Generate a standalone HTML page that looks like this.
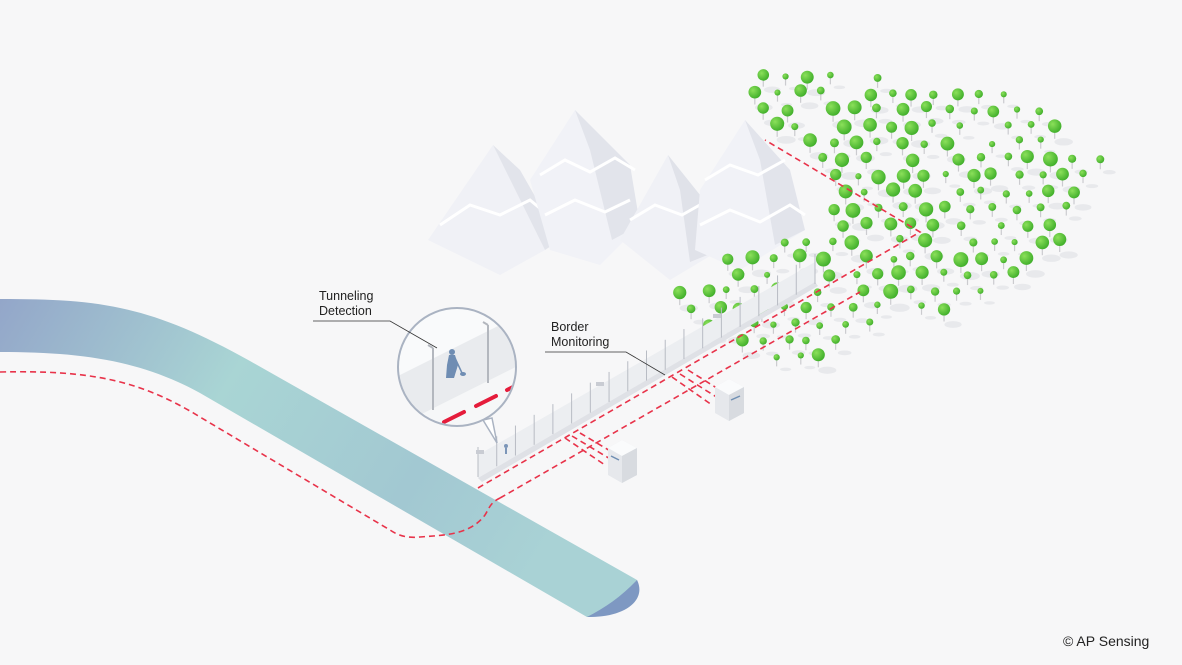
<!DOCTYPE html>
<html><head><meta charset="utf-8"><style>
html,body{margin:0;padding:0;background:#f7f7f8;}
svg{display:block}
text{font-family:"Liberation Sans",sans-serif;fill:#222;}
</style></head><body>
<svg width="1182" height="665" viewBox="0 0 1182 665" xmlns="http://www.w3.org/2000/svg">
<defs>
<linearGradient id="pg" x1="0" y1="0" x2="1" y2="0.3">
<stop offset="0" stop-color="#93a6c9"/><stop offset="0.4" stop-color="#a9d5d4"/><stop offset="0.75" stop-color="#a2c8d2"/><stop offset="1" stop-color="#a9d2d5"/></linearGradient>
<radialGradient id="tg" cx="0.35" cy="0.35" r="0.7"><stop offset="0" stop-color="#8be05a"/><stop offset="1" stop-color="#3fae2a"/></radialGradient>
<clipPath id="mc"><circle cx="457" cy="367" r="58"/></clipPath>
</defs>
<rect width="1182" height="665" fill="#f7f7f8"/>

<!-- mountains -->
<g stroke="none">
<polygon points="493,145 428,240 500,275 545,250" fill="#f0f1f6"/>
<polygon points="493,145 545,250 560,240 520,170" fill="#e2e4eb"/>
<path d="M440,225 L470,205 L500,215 L530,200 L548,215" stroke="#fff" stroke-width="3" fill="none"/>
<polygon points="575,110 530,180 550,250 600,265 640,225 630,165" fill="#f1f2f7"/>
<polygon points="575,110 630,165 640,225 612,240 590,150" fill="#e2e4eb"/>
<path d="M540,175 L565,160 L590,172 L615,158 L635,170" stroke="#fff" stroke-width="3" fill="none"/>
<path d="M545,215 L575,200 L605,212 L630,200" stroke="#fff" stroke-width="3" fill="none"/>
<polygon points="668,155 620,240 670,280 720,250 700,195" fill="#f0f1f6"/>
<polygon points="668,155 700,195 720,250 690,262 680,190" fill="#e0e2e9"/>
<path d="M630,220 L655,205 L682,215 L705,202" stroke="#fff" stroke-width="3" fill="none"/>
<polygon points="745,120 700,190 695,250 740,270 805,230 790,170" fill="#f1f2f7"/>
<polygon points="745,120 790,170 805,230 775,245 760,160" fill="#e2e4eb"/>
<path d="M705,180 L730,165 L758,175 L785,160" stroke="#fff" stroke-width="3" fill="none"/>
<path d="M700,225 L730,210 L760,222 L790,205 L805,215" stroke="#fff" stroke-width="3" fill="none"/>
</g>

<!-- forest -->
<g id="forest"></g>

<!-- pipe -->
<path d="M0,299 C100,299 150,305 250,361 L637,580 C645,598 625,617 587,617 L200,393 C140,360 80,352 0,352 Z" fill="url(#pg)"/>
<path d="M637,580 C647,600 625,618 587,617 C605,608 622,596 637,580Z" fill="#7e98c2"/>

<!-- pipe dashed -->
<path d="M0,372 C90,370 140,380 200,417 L390,530 C400,537 410,538 420,537 C445,535 470,535 485,515 C490,507 490,503 500,498" stroke="#e8334a" stroke-width="1.6" fill="none" stroke-dasharray="6,4"/>

<!-- fence -->
<polygon points="478,455 815,262 815,282 478,478" fill="#eceef1"/>
<polygon points="478,478 815,282 818,286 482,482" fill="#dfe1e6"/>
<g stroke="#b8bcc4" stroke-width="1" id="posts"></g>
<rect x="596" y="382" width="8" height="4" fill="#c9ccd3"/>
<rect x="713" y="314" width="8" height="4" fill="#c9ccd3"/>
<rect x="476" y="450" width="8" height="4" fill="#c9ccd3"/>
<circle cx="506" cy="446" r="2" fill="#7c96b8"/><path d="M506,448 l0,6" stroke="#7c96b8" stroke-width="2"/>

<!-- red border lines -->
<g stroke="#e8334a" stroke-width="1.6" fill="none" stroke-dasharray="6,4">
<path d="M478,488 L920,232 L765,140"/>
<path d="M500,498 L860,292"/>
<path d="M565,438 L605,465 M572,436 L612,460 M580,433 L612,452"/>
<path d="M672,377 L712,405 M680,374 L718,398 M688,370 L720,390"/>
</g>

<!-- towers -->
<g>
<polygon points="608,448 622,440 637,448 637,475 622,483 608,475" fill="#e6e8ec"/>
<polygon points="608,448 622,440 637,448 622,456" fill="#fafbfc"/>
<polygon points="622,456 637,448 637,475 622,483" fill="#d8dbe0"/>
<path d="M611,456 l8,4" stroke="#6f8fb3" stroke-width="1.5"/>
<polygon points="715,387 729,379 744,387 744,413 729,421 715,413" fill="#e6e8ec"/>
<polygon points="715,387 729,379 744,387 729,395" fill="#fafbfc"/>
<polygon points="729,395 744,387 744,413 729,421" fill="#d8dbe0"/>
<path d="M731,400 l9,-4" stroke="#6f8fb3" stroke-width="1.5"/>
</g>

<!-- magnifier -->
<path d="M483,420 L497,443 L492,418Z" fill="#fff" stroke="#aab3c2" stroke-width="1.5"/>
<circle cx="457" cy="367" r="59" fill="#f9fafb"/>
<g clip-path="url(#mc)">
<polygon points="390,380 530,310 530,360 390,430" fill="#e9ebee"/>
<polygon points="390,430 530,360 530,420 390,440" fill="#f6f7f8"/>
<path d="M433,348 L433,410 M488,325 L488,383" stroke="#b3b7be" stroke-width="2"/>
<path d="M433,348 l-5,-3 M488,325 l-5,-3" stroke="#b3b7be" stroke-width="2"/>
<path d="M420,435 l12,-6 M444,422 l20,-10 M476,406 l20,-10 M507,390 l20,-10" stroke="#e51c3b" stroke-width="4" stroke-linecap="round"/>
<circle cx="452" cy="352" r="3" fill="#6f8db3"/>
<path d="M449,355 L455,355 L458,365 L454,378 L446,378 L447,365Z" fill="#6f8db3"/>
<path d="M455,358 L462,373" stroke="#6f8db3" stroke-width="1.5"/><ellipse cx="463" cy="374" rx="3" ry="2" fill="#6f8db3"/>
</g>
<circle cx="457" cy="367" r="59" fill="none" stroke="#aab3c2" stroke-width="2"/>

<!-- labels -->
<text x="319" y="300" font-size="12.5">Tunneling</text>
<text x="319" y="315" font-size="12.5">Detection</text>
<path d="M313,321 L390,321 L437,348" stroke="#333" stroke-width="0.8" fill="none"/>
<text x="551" y="331" font-size="12.5">Border</text>
<text x="551" y="346" font-size="12.5">Monitoring</text>
<path d="M545,352 L626,352 L665,375" stroke="#333" stroke-width="0.8" fill="none"/>
<text x="1063" y="646" font-size="14" style="fill:#222">© AP Sensing</text>
</svg>
<script>
(function(){
var ns="http://www.w3.org/2000/svg";
var posts=document.getElementById("posts");
for(var i=0;i<=18;i++){var x=478+i*(337/18),y=455-i*(193/18);
var l=document.createElementNS(ns,"line");l.setAttribute("x1",x);l.setAttribute("y1",y-8);l.setAttribute("x2",x);l.setAttribute("y2",y+22);posts.appendChild(l);}
var poly=[[745,72],[1000,80],[1110,160],[1060,250],[990,300],[870,330],[800,372],[760,362],[665,300],[720,262],[790,235],[830,190],[800,145],[765,115]];
function inside(x,y){var c=false;for(var i=0,j=poly.length-1;i<poly.length;j=i++){var a=poly[i],b=poly[j];if(((a[1]>y)!=(b[1]>y))&&(x<(b[0]-a[0])*(y-a[1])/(b[1]-a[1])+a[0]))c=!c;}return c;}
var s=11;function r(){s=(s*16807)%2147483647;return s/2147483647;}
var f=document.getElementById("forest");var html="";var row=0;
for(var y=76;y<380;y+=16.5){row++;for(var x=660;x<1120;x+=23){var px=x+(r()-0.5)*8+(row%2)*11.5,py=y+(r()-0.5)*5;
if(!inside(px,py))continue;if(r()<0.12)continue;
var rr=r()<0.45?3+r()*1.5:5.5+r()*2;
html+='<ellipse cx="'+(px+9)+'" cy="'+(py+rr+9)+'" rx="'+(rr+2.5)+'" ry="'+(rr*0.55)+'" fill="#e8e9ec"/>';
html+='<line x1="'+px+'" y1="'+py+'" x2="'+px+'" y2="'+(py+rr+6)+'" stroke="#cbcbcf" stroke-width="1.2"/>';
html+='<circle cx="'+px+'" cy="'+py+'" r="'+rr+'" fill="url(#tg)"/>';}}
f.innerHTML=html;})();
</script>
</body></html>
